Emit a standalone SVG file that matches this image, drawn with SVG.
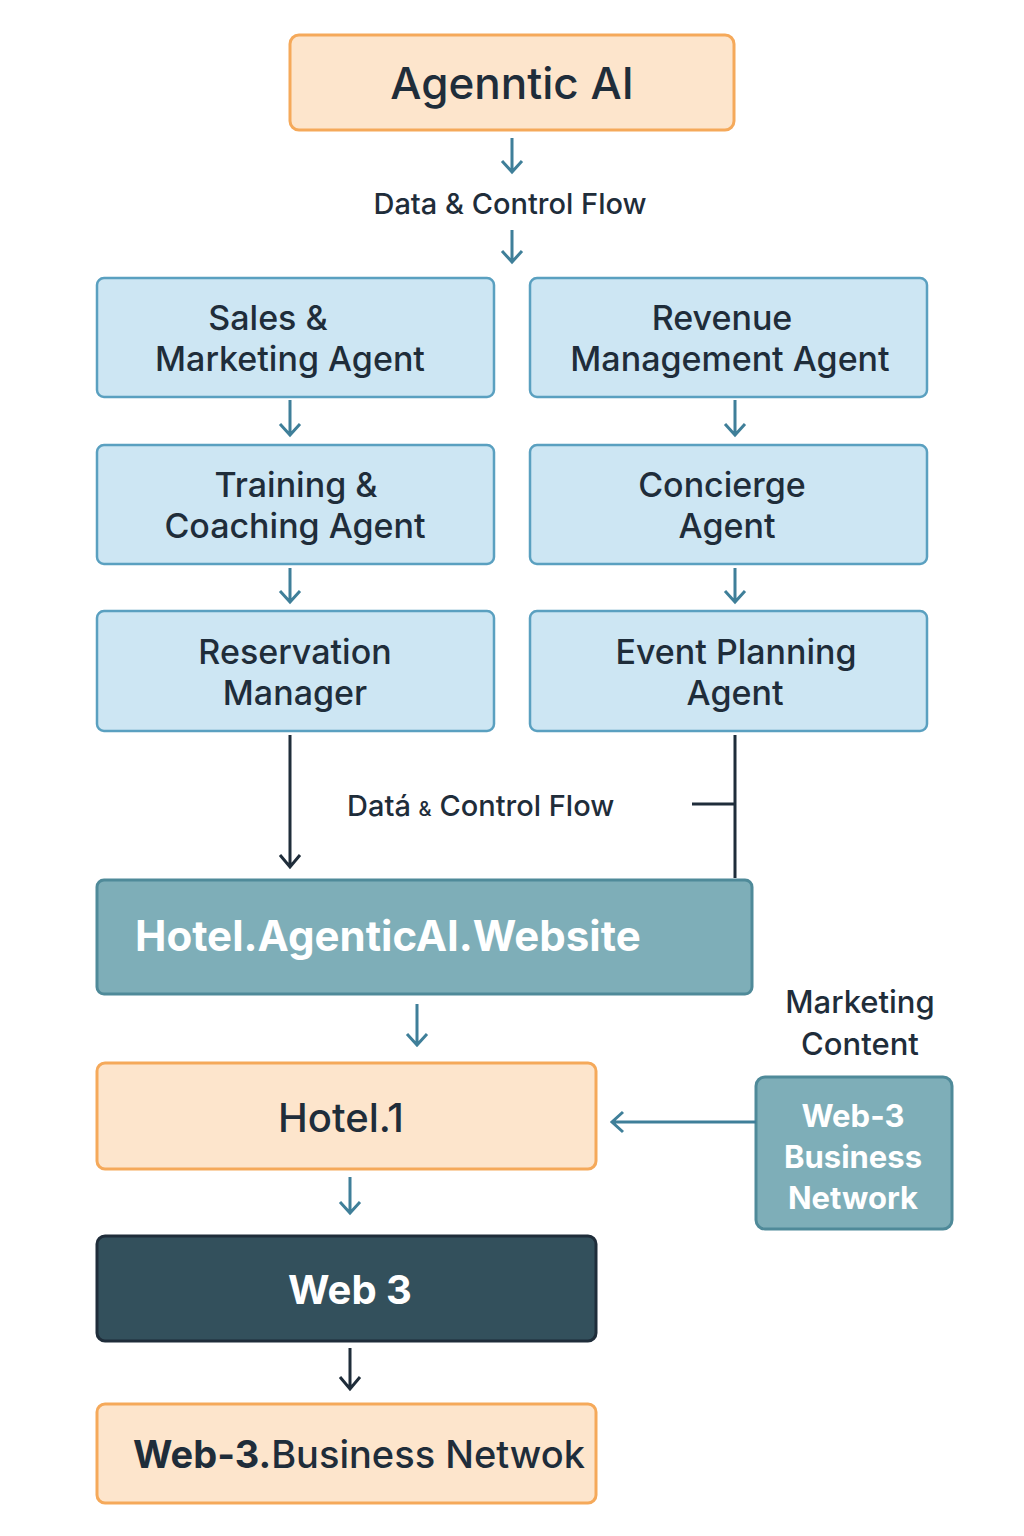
<svg xmlns="http://www.w3.org/2000/svg" width="1024" height="1536" viewBox="0 0 1024 1536">
<style>
text{font-family:Inter,"Open Sans","Liberation Sans",sans-serif;fill:#1f2d3a;text-anchor:middle;font-weight:500}
.peach{fill:#fde5cc;stroke:#f5a95a;stroke-width:3}
.blue{fill:#cde6f3;stroke:#5aa0c0;stroke-width:2.5}
.teal{fill:#7eaeb8;stroke:#4f8a99;stroke-width:3}
.ag{font-size:34px}
.lb{stroke:#3f7f99;stroke-width:3;fill:none}
.dk{stroke:#1f2d3a;stroke-width:3;fill:none}
.w{fill:#fff;font-weight:bold}
</style>
<g id="agentic"><rect class="peach" x="290" y="35" width="444" height="95" rx="9"/><text x="512" y="99" font-size="44" font-weight="bold">Agenntic AI</text></g>
<g id="flow1"><text x="510" y="214" font-size="29">Data &amp; Control Flow</text></g>
<g id="sales"><rect class="blue" x="97" y="278" width="397" height="119" rx="7"/><text class="ag" x="268" y="330">Sales &amp;</text><text class="ag" x="290" y="371">Marketing  Agent</text></g>
<g id="revenue"><rect class="blue" x="530" y="278" width="397" height="119" rx="7"/><text class="ag" x="722" y="330">Revenue</text><text class="ag" x="730" y="371">Management Agent</text></g>
<g id="training"><rect class="blue" x="97" y="445" width="397" height="119" rx="7"/><text class="ag" x="296" y="497">Training &amp;</text><text class="ag" x="295" y="538">Coaching  Agent</text></g>
<g id="concierge"><rect class="blue" x="530" y="445" width="397" height="119" rx="7"/><text class="ag" x="722" y="497">Concierge</text><text class="ag" x="727" y="538">Agent</text></g>
<g id="reservation"><rect class="blue" x="97" y="611" width="397" height="120" rx="7"/><text class="ag" x="295" y="664">Reservation</text><text class="ag" x="295" y="705">Manager</text></g>
<g id="event"><rect class="blue" x="530" y="611" width="397" height="120" rx="7"/><text class="ag" x="736" y="664">Event Planning</text><text class="ag" x="735" y="705">Agent</text></g>
<g id="flow2"><text x="347" y="816" font-size="29" style="text-anchor:start">Datá <tspan font-size="20">&amp;</tspan> Control Flow</text></g>
<g id="website"><rect class="teal" x="97" y="880" width="655" height="114" rx="7"/><text class="w" x="135" y="951" font-size="42" style="text-anchor:start">Hotel.AgenticAI.Website</text></g>
<g id="marketing"><text x="860" y="1013" font-size="31">Marketing</text><text x="860" y="1055" font-size="31">Content</text></g>
<g id="hotel1"><rect class="peach" x="97" y="1063" width="499" height="106" rx="8"/><text x="341" y="1132" font-size="40" font-weight="bold">Hotel.1</text></g>
<g id="w3bn"><rect class="teal" x="756" y="1077" width="196" height="152" rx="9"/><text class="w" x="853" y="1127" font-size="31">Web-3</text><text class="w" x="853" y="1168" font-size="31">Business</text><text class="w" x="853" y="1209" font-size="31">Network</text></g>
<g id="web3"><rect x="97" y="1236" width="499" height="105" rx="8" fill="#33505c" stroke="#1f2d3a" stroke-width="3"/><text class="w" x="350" y="1304" font-size="40">Web 3</text></g>
<g id="final"><rect class="peach" x="97" y="1404" width="499" height="99" rx="8"/><text x="133" y="1468" font-size="38" style="text-anchor:start"><tspan font-weight="bold">Web-3.</tspan>Business Netwok</text></g>
<g id="connectors">
<path class="lb" d="M512,138V172M502,161L512,172L522,161"/>
<path class="lb" d="M512,230V262M502,251L512,262L522,251"/>
<path class="lb" d="M290,400V435M280,424L290,435L300,424"/>
<path class="lb" d="M735,400V435M725,424L735,435L745,424"/>
<path class="lb" d="M290,568V602M280,591L290,602L300,591"/>
<path class="lb" d="M735,568V602M725,591L735,602L745,591"/>
<path class="dk" d="M290,735V866M280,855L290,867L300,855"/>
<path class="dk" d="M735,735V878M692,804H735"/>
<path class="lb" d="M417,1004V1045M407,1034L417,1045L427,1034"/>
<path class="lb" d="M756,1122H612M623,1112L612,1122L623,1132"/>
<path class="lb" d="M350,1177V1213M340,1202L350,1213L360,1202"/>
<path class="dk" d="M350,1348V1388M340,1377L350,1389L360,1377"/>
</g>
</svg>
